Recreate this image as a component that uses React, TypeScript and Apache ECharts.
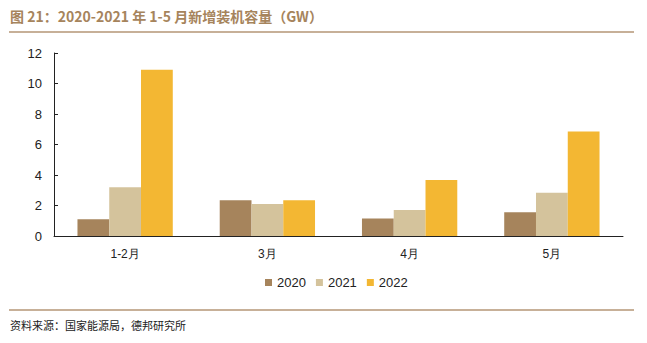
import React, { useEffect, useRef } from "react";
import * as echarts from "echarts";

const categories = ["1-2月", "3月", "4月", "5月"];
const s2020 = [1.1, 2.35, 1.15, 1.55];
const s2021 = [3.2, 2.1, 1.7, 2.83];
const s2022 = [10.9, 2.35, 3.68, 6.85];
const seriesNames = ["2020", "2021", "2022"];
const colors = ["#a6845c", "#d4c39c", "#f3b733"];

export default function App() {
  const ref = useRef<HTMLDivElement>(null);
  useEffect(() => {
    const chart = echarts.init(ref.current!, null, { renderer: "svg" });
    const data = [s2020, s2021, s2022];
    chart.setOption({
      animation: false,
      textStyle: { fontFamily: "Liberation Sans, Arial, sans-serif" },
      grid: { left: 54, right: 24, top: 53, bottom: 107 },
      legend: {
        bottom: 49,
        left: 260,
        itemWidth: 7,
        itemHeight: 7,
        itemGap: 10,
        icon: "rect",
        textStyle: { fontSize: 13, color: "#222" },
        data: seriesNames,
      },
      xAxis: {
        type: "category",
        data: categories,
        axisLine: { lineStyle: { color: "#222", width: 1 } },
        axisTick: { inside: true, length: 4, lineStyle: { color: "#222" } },
        axisLabel: { fontSize: 12, color: "#222", margin: 12 },
      },
      yAxis: {
        type: "value",
        min: 0,
        max: 12,
        interval: 2,
        splitLine: { show: false },
        axisLine: { show: true, lineStyle: { color: "#222", width: 1 } },
        axisTick: { show: true, inside: true, length: 4, lineStyle: { color: "#222" } },
        axisLabel: { fontSize: 13, color: "#222", margin: 12 },
      },
      series: seriesNames.map((n, i) => ({
        name: n,
        type: "bar",
        data: data[i],
        barGap: "0%",
        barCategoryGap: "33%",
        itemStyle: { color: colors[i] },
      })),
      graphic: [
        {
          type: "text",
          left: 10,
          top: 9,
          style: {
            text: "图 21：2020-2021 年 1-5 月新增装机容量（GW）",
            fontSize: 14,
            fontWeight: "bold",
            fill: "#a6845c",
            fontFamily: "Noto Sans CJK SC, sans-serif",
          },
        },
        {
          type: "line",
          shape: { x1: 9, y1: 32, x2: 634, y2: 32 },
          style: { stroke: "#b49676", lineWidth: 1.5 },
        },
        {
          type: "line",
          shape: { x1: 9, y1: 310, x2: 634, y2: 310 },
          style: { stroke: "#b49676", lineWidth: 1.5 },
        },
        {
          type: "text",
          left: 10,
          top: 319,
          style: {
            text: "资料来源：国家能源局，德邦研究所",
            fontSize: 11,
            fill: "#222",
            fontFamily: "Noto Sans CJK SC, sans-serif",
          },
        },
      ],
    });
    return () => chart.dispose();
  }, []);
  return (
    <div
      ref={ref}
      style={{ position: "fixed", left: 0, top: 0, width: 647, height: 343, background: "#fff" }}
    />
  );
}
